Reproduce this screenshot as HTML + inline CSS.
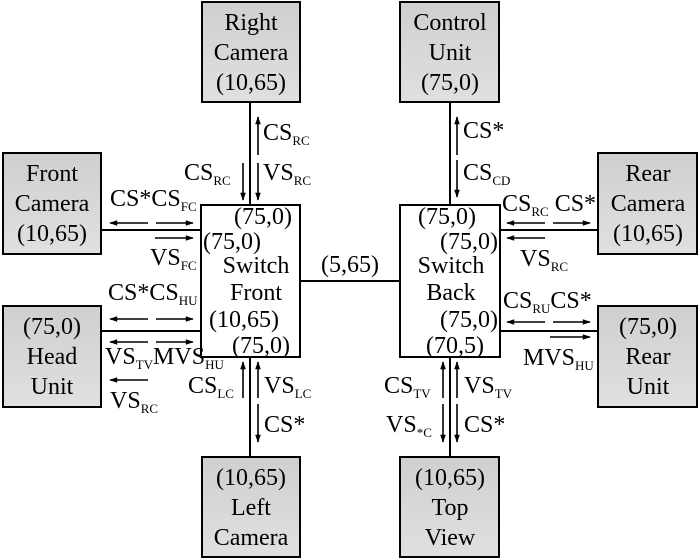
<!DOCTYPE html>
<html><head><meta charset="utf-8"><style>
html,body{margin:0;padding:0;background:#fff;}
svg{display:block;}
text{font-family:"Liberation Serif",serif;font-size:24px;fill:#000;}
.s{font-size:13px;}
</style></head><body>
<svg width="700" height="560" viewBox="0 0 700 560" xmlns="http://www.w3.org/2000/svg">
<defs>
<linearGradient id="g" x1="0" y1="0" x2="0" y2="1"><stop offset="0" stop-color="#cfcfcf"/><stop offset="1" stop-color="#e0e0e0"/></linearGradient>
<marker id="a" viewBox="0 0 10 10" refX="9" refY="5" markerWidth="10" markerHeight="8" markerUnits="userSpaceOnUse" orient="auto"><path d="M0,1.5 L10,5 L0,8.5 Z" fill="#000"/></marker>
</defs>
<g stroke="#000" stroke-width="2" fill="url(#g)">
<rect x="202" y="2" width="98" height="100"/>
<rect x="400" y="2" width="99" height="100"/>
<rect x="3" y="153" width="98" height="101"/>
<rect x="598" y="153" width="99" height="101"/>
<rect x="3" y="306" width="98" height="101"/>
<rect x="598" y="306" width="99" height="101"/>
<rect x="202" y="457" width="98" height="100"/>
<rect x="400" y="457" width="99" height="100"/>
<rect x="201" y="205" width="99" height="152" fill="#fff"/>
<rect x="400" y="205" width="100" height="152" fill="#fff"/>
</g>
<g stroke="#000" stroke-width="2">
<line x1="250" y1="102" x2="250" y2="205"/>
<line x1="450" y1="102" x2="450" y2="205"/>
<line x1="101" y1="230" x2="201" y2="230"/>
<line x1="101" y1="331" x2="201" y2="331"/>
<line x1="300" y1="281" x2="400" y2="281"/>
<line x1="500" y1="230" x2="598" y2="230"/>
<line x1="500" y1="331" x2="598" y2="331"/>
<line x1="250" y1="357" x2="250" y2="457"/>
<line x1="450" y1="357" x2="450" y2="457"/>
</g>
<g stroke="#000" stroke-width="1.6" marker-end="url(#a)">
<line x1="258" y1="155" x2="258" y2="117"/>
<line x1="258" y1="163" x2="258" y2="200"/>
<line x1="243" y1="163" x2="243" y2="200"/>
<line x1="457" y1="155" x2="457" y2="117"/>
<line x1="457" y1="160" x2="457" y2="197"/>
<line x1="148" y1="223" x2="110" y2="223"/>
<line x1="156" y1="223" x2="193" y2="223"/>
<line x1="155" y1="238" x2="193" y2="238"/>
<line x1="148" y1="319" x2="110" y2="319"/>
<line x1="156" y1="319" x2="193" y2="319"/>
<line x1="148" y1="342" x2="110" y2="342"/>
<line x1="156" y1="342" x2="193" y2="342"/>
<line x1="148" y1="380" x2="110" y2="380"/>
<line x1="545" y1="223" x2="507" y2="223"/>
<line x1="553" y1="223" x2="590" y2="223"/>
<line x1="545" y1="238" x2="507" y2="238"/>
<line x1="545" y1="322" x2="507" y2="322"/>
<line x1="553" y1="322" x2="590" y2="322"/>
<line x1="550" y1="337" x2="590" y2="337"/>
<line x1="243" y1="398" x2="243" y2="362"/>
<line x1="258" y1="398" x2="258" y2="362"/>
<line x1="258" y1="404" x2="258" y2="442"/>
<line x1="443" y1="398" x2="443" y2="362"/>
<line x1="443" y1="404" x2="443" y2="442"/>
<line x1="457" y1="398" x2="457" y2="362"/>
<line x1="457" y1="404" x2="457" y2="442"/>
</g>
<g text-anchor="middle">
<text x="251" y="30">Right</text><text x="251" y="60">Camera</text><text x="251" y="90">(10,65)</text>
<text x="450" y="30">Control</text><text x="450" y="60">Unit</text><text x="450" y="90">(75,0)</text>
<text x="52" y="181">Front</text><text x="52" y="211">Camera</text><text x="52" y="241">(10,65)</text>
<text x="648" y="181">Rear</text><text x="648" y="211">Camera</text><text x="648" y="241">(10,65)</text>
<text x="52" y="334">(75,0)</text><text x="52" y="364">Head</text><text x="52" y="394">Unit</text>
<text x="648" y="334">(75,0)</text><text x="648" y="364">Rear</text><text x="648" y="394">Unit</text>
<text x="251" y="485">(10,65)</text><text x="251" y="515">Left</text><text x="251" y="545">Camera</text>
<text x="450" y="485">(10,65)</text><text x="450" y="515">Top</text><text x="450" y="545">View</text>
<text x="256" y="273">Switch</text><text x="256" y="300">Front</text>
<text x="451" y="273">Switch</text><text x="451" y="300">Back</text>
<text x="350" y="272">(5,65)</text>
</g>
<text x="234" y="224">(75,0)</text>
<text x="203" y="249">(75,0)</text>
<text x="209" y="327">(10,65)</text>
<text x="232" y="353">(75,0)</text>
<text x="418" y="224">(75,0)</text>
<text x="440" y="249">(75,0)</text>
<text x="440" y="327">(75,0)</text>
<text x="426" y="353">(70,5)</text>
<text x="263" y="140">CS<tspan class="s" dy="5">RC</tspan></text>
<text x="184" y="180">CS<tspan class="s" dy="5">RC</tspan></text>
<text x="263" y="180">VS<tspan class="s" dy="5">RC</tspan></text>
<text x="463" y="138">CS*</text>
<text x="463" y="180">CS<tspan class="s" dy="5">CD</tspan></text>
<text x="110" y="206">CS*CS<tspan class="s" dy="5">FC</tspan></text>
<text x="150" y="265">VS<tspan class="s" dy="5">FC</tspan></text>
<text x="108" y="300">CS*CS<tspan class="s" dy="5">HU</tspan></text>
<text x="105" y="364">VS<tspan class="s" dy="5">TV</tspan><tspan dy="-5">MVS</tspan><tspan class="s" dy="5">HU</tspan></text>
<text x="110" y="408">VS<tspan class="s" dy="5">RC</tspan></text>
<text x="502" y="211">CS<tspan class="s" dy="5">RC</tspan><tspan dy="-5"> CS*</tspan></text>
<text x="520" y="266">VS<tspan class="s" dy="5">RC</tspan></text>
<text x="503" y="308">CS<tspan class="s" dy="5">RU</tspan><tspan dy="-5">CS*</tspan></text>
<text x="523" y="365">MVS<tspan class="s" dy="5">HU</tspan></text>
<text x="188" y="393">CS<tspan class="s" dy="5">LC</tspan></text>
<text x="264" y="393">VS<tspan class="s" dy="5">LC</tspan></text>
<text x="264" y="432">CS*</text>
<text x="384" y="393">CS<tspan class="s" dy="5">TV</tspan></text>
<text x="386" y="432">VS<tspan class="s" dy="5">*C</tspan></text>
<text x="464" y="393">VS<tspan class="s" dy="5">TV</tspan></text>
<text x="464" y="432">CS*</text>
</svg>
</body></html>
